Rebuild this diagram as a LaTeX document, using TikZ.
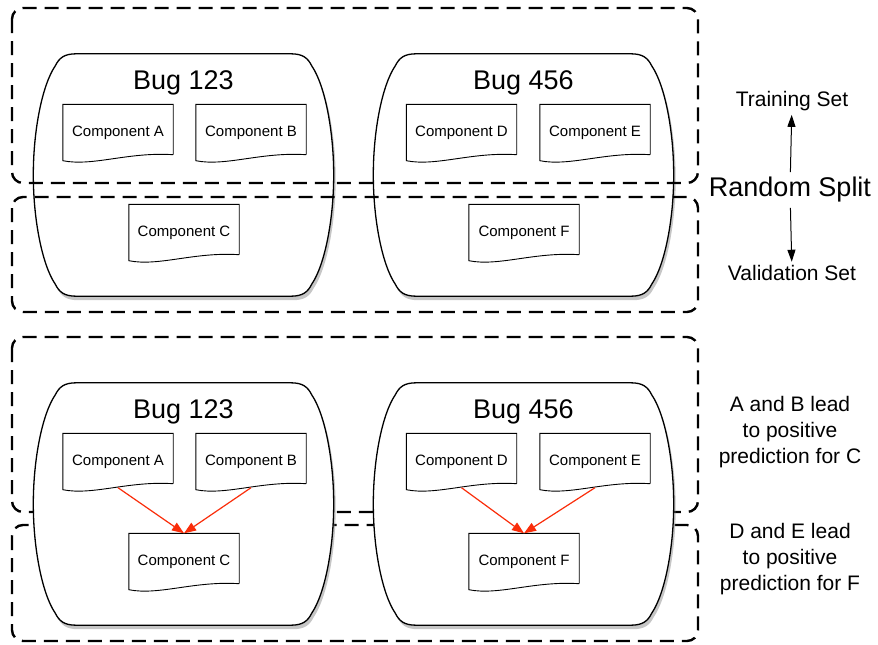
\documentclass[tikz,border=0pt]{standalone}
\usepackage{fontspec}
\setmainfont{Liberation Sans}
\usetikzlibrary{positioning,arrows.meta,shadows}
\definecolor{cLink}{RGB}{250,45,10}

\begin{document}
\begin{tikzpicture}[
  x=1pt, y=-1pt,
  setbox/.style={draw=black, line width=2.4pt, dash pattern=on 14pt off 8pt,
    rounded corners=11pt},
  bugline/.style={draw=black, line width=1.3pt, fill=white,
    drop shadow={shadow xshift=2pt, shadow yshift=-4pt, opacity=0.45}},
  bug/.style={minimum width=300pt, minimum height=242pt, inner sep=0pt,
    append after command={\pgfextra{
      \draw[bugline] ([xshift=43pt]\tikzlastnode.north west)
        -- ([xshift=-43pt]\tikzlastnode.north east)
        .. controls ([xshift=-31pt]\tikzlastnode.north east)
        and ([xshift=-26pt,yshift=-4pt]\tikzlastnode.north east)
        .. ([xshift=-22pt,yshift=-12pt]\tikzlastnode.north east)
        .. controls ([xshift=-9pt,yshift=-31pt]\tikzlastnode.north east)
        and ([yshift=45pt]\tikzlastnode.east) .. (\tikzlastnode.east)
        .. controls ([yshift=-45pt]\tikzlastnode.east)
        and ([xshift=-9pt,yshift=31pt]\tikzlastnode.south east)
        .. ([xshift=-22pt,yshift=12pt]\tikzlastnode.south east)
        .. controls ([xshift=-26pt,yshift=4pt]\tikzlastnode.south east)
        and ([xshift=-31pt]\tikzlastnode.south east)
        .. ([xshift=-43pt]\tikzlastnode.south east)
        -- ([xshift=43pt]\tikzlastnode.south west)
        .. controls ([xshift=31pt]\tikzlastnode.south west)
        and ([xshift=26pt,yshift=4pt]\tikzlastnode.south west)
        .. ([xshift=22pt,yshift=12pt]\tikzlastnode.south west)
        .. controls ([xshift=9pt,yshift=31pt]\tikzlastnode.south west)
        and ([yshift=-45pt]\tikzlastnode.west) .. (\tikzlastnode.west)
        .. controls ([yshift=45pt]\tikzlastnode.west)
        and ([xshift=9pt,yshift=-31pt]\tikzlastnode.north west)
        .. ([xshift=22pt,yshift=-12pt]\tikzlastnode.north west)
        .. controls ([xshift=26pt,yshift=-4pt]\tikzlastnode.north west)
        and ([xshift=31pt]\tikzlastnode.north west)
        .. cycle;
    }}},
  buglbl/.style={font=\fontsize{27}{32}\selectfont, text depth=0pt},
  comp/.style={minimum width=110pt, minimum height=54pt, inner sep=0pt,
    font=\fontsize{15}{18}\selectfont, text depth=0pt,
    append after command={\pgfextra{
      \draw[line width=0.9pt] ([yshift=4pt]\tikzlastnode.south east)
        -- (\tikzlastnode.north east) -- (\tikzlastnode.north west)
        -- ([yshift=-2pt]\tikzlastnode.south west)
        .. controls ([xshift=30pt,yshift=-8pt]\tikzlastnode.south west)
        and ([xshift=-45pt,yshift=7pt]\tikzlastnode.south east)
        .. ([yshift=4pt]\tikzlastnode.south east);
    }}},
  side/.style={font=\fontsize{21}{26}\selectfont, align=center},
  split/.style={font=\fontsize{27}{32}\selectfont, inner ysep=5pt},
  arr/.style={-{Triangle[length=12pt,width=8pt]}, line width=1pt},
  link/.style={-{Triangle[length=12pt,width=9pt]}, line width=1.2pt, cLink},
]
\useasboundingbox (0,0) rectangle (878,645);

% Random-split panel.
\node[bug] (bugOnes) at (183.5,175) {};
\node[bug] (bugTwos) at (523.5,175) {};
\node[buglbl] (lblOnes) at ([yshift=-26pt]bugOnes.north) {Bug 123};
\node[buglbl] (lblTwos) at ([yshift=-26pt]bugTwos.north) {Bug 456};

\node[comp] (compAs) at (118,131.5) {Component A};
\node[comp] (compBs) at (251,131.5) {Component B};
\node[comp] (compCs) at (184,231.5) {Component C};
\node[comp] (compDs) at (461.5,131.5) {Component D};
\node[comp] (compEs) at (595,131.5) {Component E};
\node[comp] (compFs) at (524,231.5) {Component F};

\draw[setbox] (12,8) rectangle (698,183);
\draw[setbox] (12,197) rectangle (698,312);

\node[split] (splits) at (790,190) {Random Split};
\node[side] (trains) at (792,101.5) {Training Set};
\node[side] (valids) at (792,273) {Validation Set};
\draw[arr] (splits) -- (trains);
\draw[arr] (splits) -- (valids);

% Prediction panel.
\draw[setbox] (12,337) rectangle (698,512);
\draw[setbox] (12,525) rectangle (698,641);

\node[bug] (bugOnep) at (183.5,504) {};
\node[bug] (bugTwop) at (523.5,504) {};
\node[buglbl] (lblOnep) at ([yshift=-26pt]bugOnep.north) {Bug 123};
\node[buglbl] (lblTwop) at ([yshift=-26pt]bugTwop.north) {Bug 456};

\node[comp] (compAp) at (118,460.5) {Component A};
\node[comp] (compBp) at (251,460.5) {Component B};
\node[comp] (compCp) at (184,560.5) {Component C};
\node[comp] (compDp) at (461.5,460.5) {Component D};
\node[comp] (compEp) at (595,460.5) {Component E};
\node[comp] (compFp) at (524,560.5) {Component F};

\draw[link] (compAp.south) -- (compCp.north);
\draw[link] (compBp.south) -- (compCp.north);
\draw[link] (compDp.south) -- (compFp.north);
\draw[link] (compEp.south) -- (compFp.north);

\node[side] (notep) at (790,432) {A and B lead\\ to positive\\ prediction for C};
\node[side] (notef) at (790,559) {D and E lead\\ to positive\\ prediction for F};

\end{tikzpicture}
\end{document}
